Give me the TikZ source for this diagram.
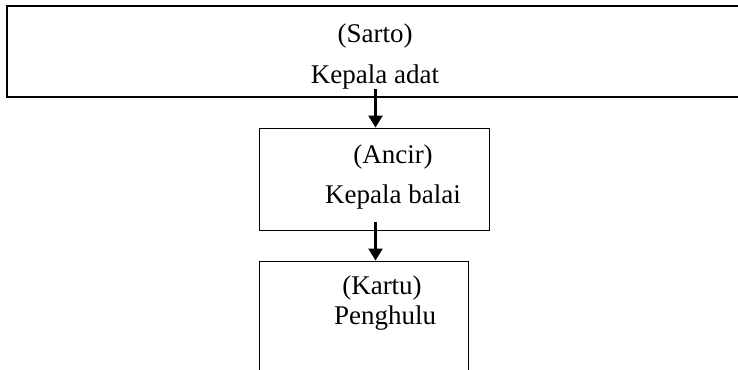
\documentclass[tikz,border=0pt]{standalone}
\usepackage{fontspec}
\setmainfont{Liberation Serif}
\usetikzlibrary{arrows.meta}
\begin{document}
\begin{tikzpicture}[x=1pt,y=-1pt,
  box/.style={draw,inner sep=0pt,line width=0.9pt},
  topbox/.style={draw,inner sep=0pt,line width=1.6pt},
  lbl/.style={inner sep=0pt,font=\fontsize{27}{31}\selectfont},
  link/.style={line width=2.4pt,-{Triangle[width=14pt,length=12pt]}}]
\useasboundingbox (0,0) rectangle (738,369);
\node[topbox,minimum width=738pt,minimum height=91pt] (top) at (376,51.5) {};
\node[box,minimum width=229.5pt,minimum height=102pt] (mid) at (374.25,179) {};
\node[box,minimum width=209pt,minimum height=120pt] (bot) at (363.5,321) {};
\node[lbl] (t1) at (375,36) {(Sarto)};
\node[lbl] (t2) at (375,77) {Kepala adat};
\node[lbl] (m1) at (393,157) {(Ancir)};
\node[lbl] (m2) at (393,197) {Kepala balai};
\node[lbl] (b1) at (382,288) {(Kartu)};
\node[lbl] (b2) at (385,318) {Penghulu};
\coordinate (s1) at ([yshift=9pt]top.south -| 375.5,0);
\coordinate (s2) at ([yshift=8pt]mid.south -| 375.5,0);
\draw[link] (s1) -- (mid.north -| s1);
\draw[link] (s2) -- (bot.north -| s2);
\end{tikzpicture}
\end{document}
